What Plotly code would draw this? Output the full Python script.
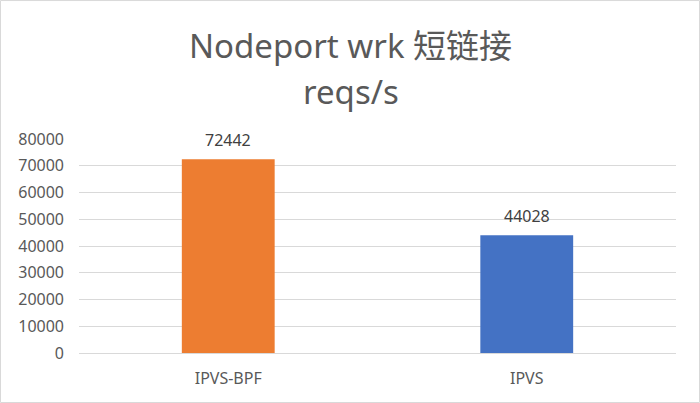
import plotly.graph_objects as go

categories = ["IPVS-BPF", "IPVS"]
reqs_per_sec = [72442, 44028]
bar_colors = ["#ED7D31", "#4472C4"]
y_ticks = [0, 10000, 20000, 30000, 40000, 50000, 60000, 70000, 80000]

font_family = "Noto Sans, Noto Sans CJK SC, sans-serif"
text_grey = "#595959"

fig = go.Figure()
fig.add_bar(x=categories, y=reqs_per_sec, marker_color=bar_colors,
            marker_line_width=0, showlegend=False, hoverinfo="x+y")

# data labels above the bars
for cat, val in zip(categories, reqs_per_sec):
    fig.add_annotation(x=cat, y=val, text=str(val), showarrow=False,
                       yanchor="bottom", yshift=6,
                       font=dict(size=16, color="#404040", family=font_family))

# two-line title
fig.add_annotation(xref="paper", yref="paper", x=0.455, y=1.439,
                   xanchor="center", yanchor="middle",
                   text="Nodeport wrk 短链接", showarrow=False,
                   font=dict(size=33, color=text_grey, family=font_family))
fig.add_annotation(xref="paper", yref="paper", x=0.455, y=1.22,
                   xanchor="center", yanchor="middle",
                   text="reqs/s", showarrow=False,
                   font=dict(size=33, color=text_grey, family=font_family))

# light border around the whole chart
fig.add_shape(type="rect", xref="paper", yref="paper",
              x0=-0.1315, x1=1.0394, y0=-0.2313, y1=1.647,
              line=dict(color="#D9D9D9", width=1), layer="below")

fig.update_layout(
    width=700, height=403,
    margin=dict(l=79, r=24, t=139, b=50),
    paper_bgcolor="white", plot_bgcolor="white",
    bargap=0.689,
    font=dict(family=font_family, size=16, color=text_grey),
    xaxis=dict(showgrid=False, showline=False, ticks="", ticklabelstandoff=14,
               tickfont=dict(size=16, color=text_grey)),
    yaxis=dict(range=[0, 80000], tickvals=y_ticks, showgrid=True,
               gridcolor="#D9D9D9", gridwidth=1, zeroline=True,
               zerolinecolor="#D9D9D9", zerolinewidth=1, showline=False,
               ticks="", ticklabelstandoff=14, tickformat="d",
               tickfont=dict(size=16, color=text_grey)),
)

# page body has a default 8px margin; drop it so the chart sits at 0,0
fig.write_html("out.html", config={"displayModeBar": False},
               post_script="document.body.style.margin='0';")
